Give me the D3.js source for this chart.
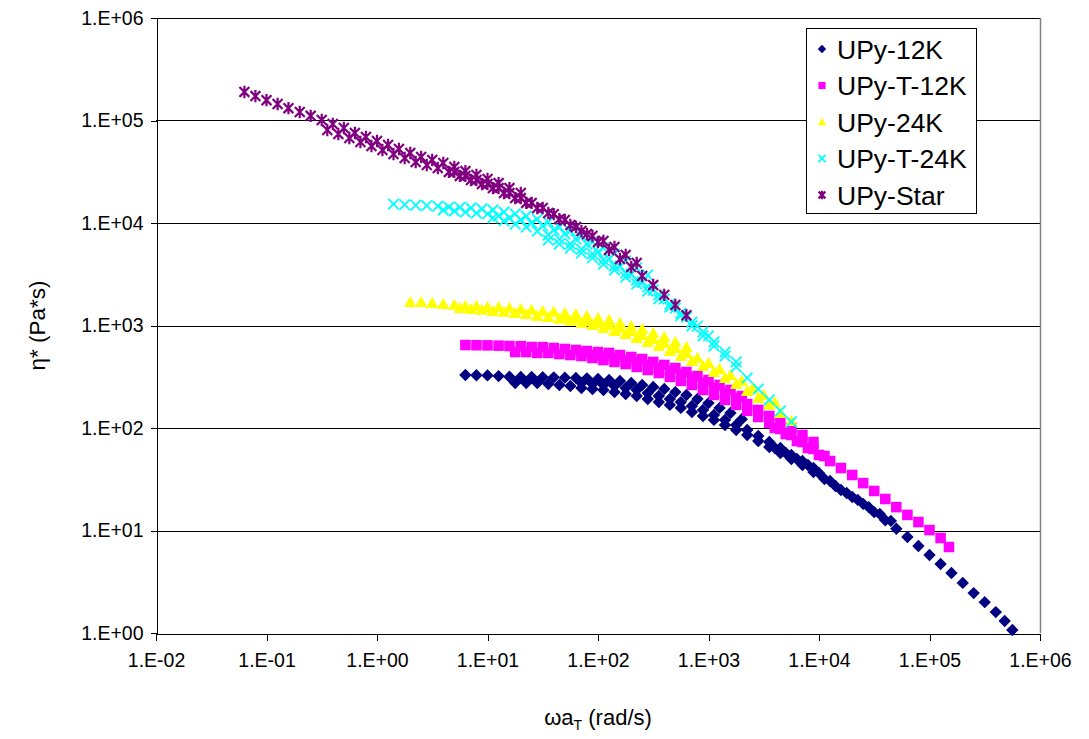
<!DOCTYPE html>
<html>
<head>
<meta charset="utf-8">
<script src="https://cdn.jsdelivr.net/npm/d3@7"></script>
<style>
  body { margin: 0; background: #fff; }
  svg { font-family: "Liberation Sans", Arial, sans-serif; }
  .grid line { stroke: #000; stroke-width: 1; shape-rendering: crispEdges; }
</style>
</head>
<body>
<script>
// chart values (several overlapping sweeps per sample)
var seriesNames = ["UPy-12K", "UPy-T-12K", "UPy-24K", "UPy-T-24K", "UPy-Star"];
var xTickValues = [1e-2, 1e-1, 1e0, 1e1, 1e2, 1e3, 1e4, 1e5, 1e6];
var yTickValues = [1e0, 1e1, 1e2, 1e3, 1e4, 1e5, 1e6];

// UPy-12K
var upy12kX = [
  6.31, 7.94, 10, 12.6, 15.8, 20, 25.1, 31.6, 39.8, 50.1, 63.1, 79.4, 100, 126, 158, 200, 251, 316, 398, 501, 631, 794, 1000, 1260, 1580, 2000,
  17.8, 22.4, 28.2, 35.5, 44.7, 56.2, 70.8, 89.1, 112, 141, 178, 224, 282, 355, 447, 562, 708, 891, 1120, 1410, 1780, 2240, 2820, 3550, 4470, 5620, 7080, 8910, 11200, 14100, 17800, 22400, 28200, 35500, 44700,
  70.8, 89.1, 112, 141, 178, 224, 282, 355, 447, 562, 708, 891, 1120, 1410, 1780, 2240, 2820, 3550, 4470, 5620, 7080, 8910,
  3980, 5010, 6310, 7940, 10000, 12600, 15800, 20000, 25100, 31600, 39800, 50100, 63100, 79400, 100000, 126000, 158000, 200000, 251000, 316000, 398000, 479000, 562000
];
var upy12kY = [
  329, 327, 326, 321, 316, 314, 315, 313, 312, 310, 308, 305, 301, 294, 287, 275, 263, 251, 240, 224, 210, 192, 175, 157, 140, 122,
  275, 275, 275, 269, 263, 257, 245, 240, 235, 224, 215, 205, 192, 179, 168, 157, 143, 131, 120, 107, 95.5, 85.5, 74.6, 65.3, 57.0, 49.9, 43.6, 37.2, 31.8, 27.2, 23.2, 19.9, 16.9, 14.5, 12.4,
  275, 269, 263, 257, 245, 235, 219, 205, 192, 179, 164, 150, 134, 120, 107, 95.5, 83.6, 73.0, 63.8, 54.6, 47.6, 40.7,
  63.8, 57.0, 49.9, 43.6, 36.4, 30.4, 24.8, 21.2, 18.2, 15.1, 12.6, 10.4, 8.65, 7.06, 5.77, 4.71, 3.85, 3.08, 2.45, 2.00, 1.60, 1.31, 1.07
];

// UPy-T-12K
var upyT12kX = [
  6.31, 7.94, 10, 12.6, 15.8, 20, 25.1, 31.6, 39.8, 50.1, 63.1, 79.4, 100, 126, 158, 200, 251, 316, 398, 501, 631, 794, 1000, 1260, 1580, 2000,
  17.8, 22.4, 28.2, 35.5, 44.7, 56.2, 70.8, 89.1, 112, 141, 178, 224, 282, 355, 447, 562, 708, 891, 1120, 1410, 1780, 2240, 2820, 3550, 4470, 5620, 7080, 8910, 11200,
  70.8, 89.1, 112, 141, 178, 224, 282, 355, 447, 562, 708, 891, 1120, 1410, 1780, 2240, 2820, 3550, 4470, 5620, 7080, 8910,
  3980, 5010, 6310, 7940, 10000, 12600, 15800, 20000, 25100, 31600, 39800, 50100, 63100, 79400, 100000, 126000, 150000
];
var upyT12kY = [
  645, 642, 640, 636, 631, 628, 617, 615, 603, 590, 577, 564, 551, 540, 515, 493, 471, 441, 412, 385, 352, 321, 294, 263, 235, 205,
  551, 551, 540, 540, 527, 515, 504, 482, 460, 441, 421, 394, 368, 344, 315, 288, 263, 235, 210, 188, 168, 147, 128, 112, 97.8, 85.5, 73.0, 62.4, 53.3,
  540, 515, 504, 482, 460, 441, 412, 385, 360, 337, 308, 275, 245, 219, 196, 171, 150, 131, 115, 100, 85.5, 73.0,
  100, 87.4, 74.6, 63.8, 54.6, 47.6, 40.7, 34.8, 29.0, 24.3, 20.3, 16.9, 14.2, 12.1, 10.1, 8.45, 6.90
];

// UPy-24K
var upy24kX = [
  2.0, 2.51, 3.16, 3.98, 5.01, 6.31, 7.94, 10, 12.6, 15.8, 20, 25.1, 31.6, 39.8, 50.1, 63.1, 79.4, 100, 126, 158, 200, 251, 316, 398, 501, 631,
  5.62, 7.08, 8.91, 11.2, 14.1, 17.8, 22.4, 28.2, 35.5, 44.7, 56.2, 70.8, 89.1, 112, 141, 178, 224, 282, 355, 447, 562, 708, 891, 1120, 1410, 1780, 2240, 2820, 3550, 4470, 5620,
  50.1, 63.1, 79.4, 100, 126, 158, 200, 251, 316, 398, 501, 631, 794, 1000, 1260, 1580, 2000, 2510, 3160, 3980
];
var upy24kY = [
  1690, 1690, 1660, 1620, 1590, 1550, 1550, 1510, 1510, 1480, 1450, 1420, 1380, 1360, 1320, 1290, 1240, 1180, 1130, 1060, 989, 925, 845, 773, 690, 617,
  1480, 1450, 1420, 1380, 1360, 1320, 1290, 1240, 1210, 1160, 1110, 1060, 1010, 946, 883, 826, 755, 690, 631, 564, 504, 451, 403, 352, 308, 269, 230, 196, 168, 140, 117,
  1210, 1160, 1110, 1060, 1010, 946, 883, 807, 738, 675, 603, 540, 482, 431, 377, 329, 288, 245, 210, 179
];

// UPy-T-24K
var upyT24kX = [
  1.41, 1.78, 2.24, 2.82, 3.55, 4.47, 5.62, 7.08, 8.91, 11.2, 14.1, 17.8, 22.4, 28.2, 35.5, 44.7, 56.2, 70.8, 89.1, 112, 141, 178, 224, 282,
  3.98, 5.01, 6.31, 7.94, 10, 12.6, 15.8, 20, 25.1, 31.6, 39.8, 50.1, 63.1, 79.4, 100, 126, 158, 200, 251, 316, 398, 501, 631, 794, 1000,
  11.2, 14.1, 17.8, 22.4, 28.2, 35.5, 44.7, 56.2, 70.8, 89.1, 112, 141, 178, 224, 282, 355, 447, 562, 708, 891, 1120, 1410, 1780,
  35.5, 44.7, 56.2, 70.8, 89.1, 112, 141, 178, 224, 282, 355, 447, 562, 708, 891, 1120, 1410, 1780, 2240, 2820, 3550, 4470, 5620
];
var upyT24kY = [
  15300, 15100, 14900, 14800, 14600, 14300, 14200, 14000, 13700, 13400, 12800, 12300, 11700, 10900, 10200, 9140, 8350, 7460, 6530, 5700, 4990, 4260, 3640, 3110,
  13400, 13100, 12800, 12500, 12300, 11700, 11200, 10700, 10000, 9350, 8550, 7820, 6980, 6240, 5210, 4460, 3800, 3180, 2650, 2220, 1820, 1480, 1210, 989, 791,
  11200, 10500, 9770, 9140, 8350, 7640, 6980, 6240, 5570, 4990, 4360, 3800, 3250, 2780, 2380, 1990, 1620, 1320, 1080, 865, 690, 551, 441,
  6820, 6240, 5700, 5090, 4560, 3980, 3480, 2970, 2540, 2170, 1820, 1510, 1240, 989, 791, 631, 504, 394, 308, 240, 188, 147, 115
];

// UPy-Star
var upyStarX = [
  0.0631, 0.0794, 0.1, 0.126, 0.158, 0.2, 0.251, 0.316, 0.398, 0.501, 0.631, 0.794, 1, 1.26, 1.58, 2, 2.51, 3.16, 3.98, 5.01, 6.31, 7.94, 10, 12.6, 15.8, 20,
  0.355, 0.447, 0.562, 0.708, 0.891, 1.12, 1.41, 1.78, 2.24, 2.82, 3.55, 4.47, 5.62, 7.08, 8.91, 11.2, 14.1, 17.8, 22.4, 28.2, 35.5, 44.7, 56.2, 70.8, 89.1, 112, 141, 178, 224,
  5.01, 6.31, 7.94, 10, 12.6, 15.8, 20, 25.1, 31.6, 39.8, 50.1, 63.1, 79.4, 100, 126, 158, 200, 251, 316, 398, 501, 631
];
var upyStarY = [
  190000, 173000, 158000, 145000, 132000, 121000, 111000, 101000, 92500, 84500, 75500, 69000, 63100, 57700, 52700, 48200, 44100, 41200, 38500, 35200, 32100, 29400, 26900, 24500, 21900, 19600,
  80700, 73800, 67500, 61700, 56400, 51500, 47100, 43100, 39400, 36800, 34400, 31500, 28800, 26300, 24000, 21900, 19600, 17500, 15700, 14000, 12500, 10900, 9550, 8350, 7460, 6670, 5830, 4880, 4070,
  31500, 28800, 26300, 24000, 21900, 19600, 17500, 15700, 14000, 12200, 10700, 9140, 7820, 6530, 5460, 4460, 3720, 3040, 2480, 1990, 1585, 1260
];

var seriesX = [upy12kX, upyT12kX, upy24kX, upyT24kX, upyStarX];
var seriesY = [upy12kY, upyT12kY, upy24kY, upyT24kY, upyStarY];
var seriesColors = ["#000080", "#FF00FF", "#FFFF00", "#00FFFF", "#800080"];
var seriesShapes = ["diamond", "square", "triangle", "cross", "star"];

//set up chart
window.onload = drawChart();

function drawChart(){
  var width = 1089,
    height = 739;
  var left = 156, right = 1040, top = 18, bottom = 633;

  var svg = d3.select("body")
    .append("svg")
    .attr("width", width)
    .attr("height", height);

  var x = d3.scaleLog().domain([1e-2, 1e6]).range([left, right]);
  var y = d3.scaleLog().domain([1, 1e6]).range([bottom, top]);

  function fmt(v) {
    var e = Math.round(Math.log10(v));
    return "1.E" + (e < 0 ? "-" : "+") + String(Math.abs(e)).padStart(2, "0");
  }

  //horizontal gridlines
  svg.append("g")
    .attr("class", "grid")
    .selectAll("line")
    .data(yTickValues.slice(1))
    .enter()
    .append("line")
    .attr("x1", left)
    .attr("x2", right)
    .attr("y1", function(d) { return Math.round(y(d)) + 0.5; })
    .attr("y2", function(d) { return Math.round(y(d)) + 0.5; });

  //right border of plot area
  svg.append("line")
    .attr("x1", right + 0.5).attr("x2", right + 0.5)
    .attr("y1", top).attr("y2", bottom)
    .attr("stroke", "#808080")
    .attr("stroke-width", 1.5);

  //axes
  var xAxis = svg.append("g")
    .attr("transform", "translate(0," + (bottom + 0.5) + ")")
    .call(d3.axisBottom(x).tickValues(xTickValues).tickFormat(fmt).tickSizeInner(7).tickSizeOuter(0).tickPadding(13));

  var yAxis = svg.append("g")
    .attr("transform", "translate(" + (left + 0.5) + ",0)")
    .call(d3.axisLeft(y).tickValues(yTickValues).tickFormat(fmt).tickSizeInner(6).tickSizeOuter(0).tickPadding(7));

  svg.selectAll(".domain, .tick line").attr("stroke", "#000").attr("shape-rendering", "crispEdges");
  svg.selectAll(".tick text").attr("font-size", 19.5).attr("fill", "#000").attr("font-family", "Liberation Sans, Arial, sans-serif");

  //axis titles
  var xTitle = svg.append("text")
    .attr("x", (left + right) / 2)
    .attr("y", 725)
    .attr("text-anchor", "middle")
    .attr("font-size", 22);
  xTitle.append("tspan").text("\u03c9a");
  xTitle.append("tspan").attr("font-size", 14).attr("dy", 5).text("T");
  xTitle.append("tspan").attr("dy", -5).text(" (rad/s)");

  svg.append("text")
    .attr("transform", "translate(45," + ((top + bottom) / 2) + ") rotate(-90)")
    .attr("text-anchor", "middle")
    .attr("font-size", 22.5)
    .text("\u03b7* (Pa*s)");

  //marker drawing
  function addMarker(g, shape, color, r) {
    if (shape == "diamond") {
      g.append("path").attr("d", "M0," + (-r) + "L" + r + ",0L0," + r + "L" + (-r) + ",0Z").attr("fill", color);
    } else if (shape == "square") {
      g.append("rect").attr("x", -r * 0.85).attr("y", -r * 0.85).attr("width", r * 1.7).attr("height", r * 1.7).attr("fill", color);
    } else if (shape == "triangle") {
      g.append("path").attr("d", "M0," + (-r) + "L" + r + "," + (r * 0.8) + "L" + (-r) + "," + (r * 0.8) + "Z").attr("fill", color);
    } else if (shape == "cross") {
      var s = r * 0.85;
      g.append("path").attr("d", "M" + (-s) + "," + (-s) + "L" + s + "," + s + "M" + (-s) + "," + s + "L" + s + "," + (-s))
        .attr("stroke", color).attr("stroke-width", 1.8).attr("fill", "none");
    } else {
      var s2 = r * 0.8;
      g.append("path").attr("d", "M" + (-s2) + "," + (-s2) + "L" + s2 + "," + s2 + "M" + (-s2) + "," + s2 + "L" + s2 + "," + (-s2) + "M0," + (-r) + "L0," + r)
        .attr("stroke", color).attr("stroke-width", 2.2).attr("fill", "none");
    }
  }

  //plot the points, series by series
  for (var i = 0; i < seriesNames.length; i++) {
    var pts = seriesX[i].map(function(v, k) { return [v, seriesY[i][k]]; });
    var shape = seriesShapes[i], color = seriesColors[i];
    svg.append("g")
      .attr("class", "series")
      .selectAll("g")
      .data(pts)
      .enter()
      .append("g")
      .attr("transform", function(d) { return "translate(" + x(d[0]) + "," + y(d[1]) + ")"; })
      .each(function() { addMarker(d3.select(this), shape, color, 6.2); });
  }

  //legend
  var legend = svg.append("g");
  legend.append("rect")
    .attr("x", 806.5).attr("y", 28.5)
    .attr("width", 170).attr("height", 185)
    .attr("fill", "#fff").attr("stroke", "#000");

  var rows = legend.selectAll(".row")
    .data(seriesNames)
    .enter()
    .append("g")
    .attr("class", "row")
    .attr("transform", function(d, k) { return "translate(822," + (49 + k * 36.5) + ")"; });

  rows.each(function(d, k) { addMarker(d3.select(this), seriesShapes[k], seriesColors[k], 4.2); });

  rows.append("text")
    .attr("x", 15)
    .attr("y", 9.5)
    .attr("font-size", 26.5)
    .text(function(d) { return d; });
}
</script>
</body>
</html>
